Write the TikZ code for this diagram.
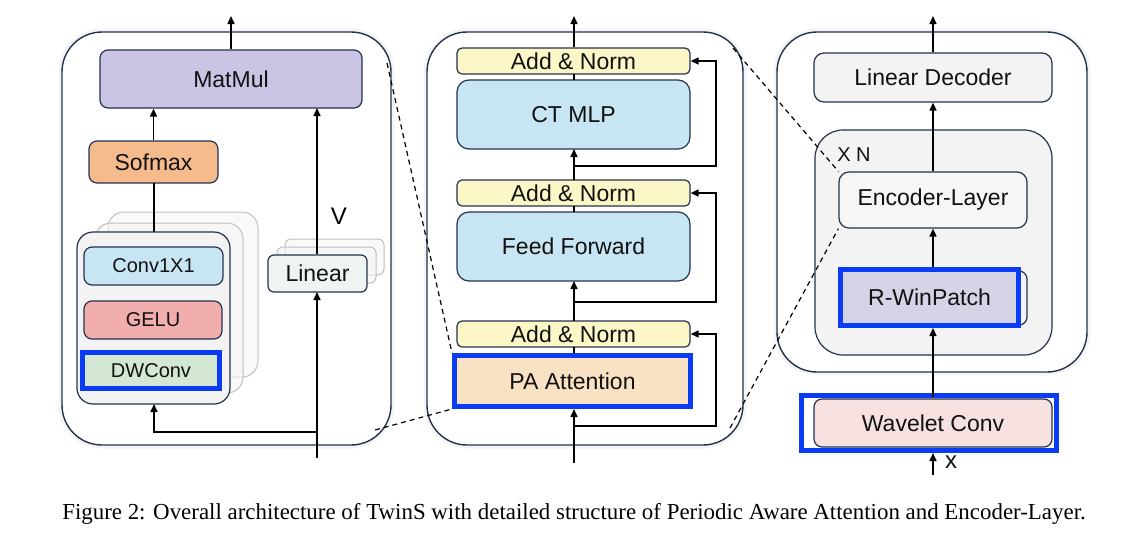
\documentclass[tikz,border=0pt]{standalone}
\usepackage{fontspec}
\setmainfont{Liberation Sans}
\newfontfamily\capfont{Liberation Serif}
\usetikzlibrary{arrows.meta}
\definecolor{navy}{HTML}{24324F}
\definecolor{hblue}{HTML}{0A3CF5}
\definecolor{cMat}{HTML}{CBC4E4}
\definecolor{cSof}{HTML}{F5BB8D}
\definecolor{cBlue}{HTML}{C8E5F3}
\definecolor{cGelu}{HTML}{F2AEAD}
\definecolor{cDW}{HTML}{D3E7D3}
\definecolor{cLin}{HTML}{EFF3F1}
\definecolor{cAdd}{HTML}{FBF7C7}
\definecolor{cPA}{HTML}{F9E2C3}
\definecolor{cGray}{HTML}{F3F3F3}
\definecolor{cEnc}{HTML}{F6F6F6}
\definecolor{cRW}{HTML}{D4D4E6}
\definecolor{cWav}{HTML}{F6E0E0}
\definecolor{txt}{HTML}{111111}
\tikzset{
  panel/.style={draw=navy, line width=1.4pt, rounded corners=40pt, fill=white},
  halo/.style={draw=black!60, line width=7pt, opacity=0.07, rounded corners=40pt},
  box/.style={draw=navy, line width=1.2pt, rounded corners=8pt, text=txt, font=\fontsize{23}{25}\selectfont, inner sep=0pt},
  sbox/.style={box, font=\fontsize{20}{22}\selectfont},
  ghost/.style={draw=black!25, line width=1pt, fill=black!4, fill opacity=0.6, rounded corners=16pt},
  hl/.style={draw=hblue, line width=5pt, sharp corners},
  arr/.style={-{Triangle[length=8pt,width=7pt]}, line width=1.5pt, black},
  ln/.style={line width=1.5pt, black},
  dsh/.style={dashed, dash pattern=on 5pt off 4pt, line width=1.2pt, black},
}
\begin{document}
\begin{tikzpicture}[x=1pt,y=-1pt]
\useasboundingbox (0,0) rectangle (1128,550);
\fill[white] (0,0) rectangle (1128,550);

% ---------- panels ----------
\draw[halo] (62,32) rectangle (391,445);
\draw[halo] (427,32) rectangle (743,445);
\draw[halo] (777,32) rectangle (1087,372);
\node[panel, minimum width=329pt, minimum height=413pt] (P1) at (226.5,238.5) {};
\node[panel, minimum width=316pt, minimum height=413pt] (P2) at (585,238.5) {};
\node[panel, minimum width=310pt, minimum height=340pt] (P3) at (932,202) {};

% ---------- left panel ----------
\node[box, fill=cMat, minimum width=262pt, minimum height=58pt] (mat) at (231,79) {MatMul};
\node[box, fill=cSof, minimum width=129pt, minimum height=42pt] (sof) at (153.5,162) {Sofmax};
\coordinate (matout) at (231,16);
\draw[arr] (mat.north) -- (matout);
\draw[arr] (sof.north) -- (sof.north |- mat.south);

\node[ghost, minimum width=150pt, minimum height=165pt] (g3) at (183,294.5) {};
\node[ghost, minimum width=148pt, minimum height=170pt] (g2) at (169,308) {};
\draw[ln] (154,183) -- (154,232);
\node[box, fill=cGray, rounded corners=16pt, minimum width=153pt, minimum height=172pt] (stk) at (153.5,318) {};
\node[sbox, fill=cBlue, minimum width=139pt, minimum height=38pt] (c11) at (153.5,266) {Conv1X1};
\node[sbox, fill=cGelu, minimum width=138pt, minimum height=38pt] (gelu) at (153,320) {GELU};
\node[sbox, fill=cDW, hl, minimum width=137pt, minimum height=36pt] (dw) at (151,370.5) {DWConv};

\node[ghost, rounded corners=6pt, minimum width=99pt, minimum height=36pt] (l3) at (334.5,257) {};
\node[ghost, rounded corners=6pt, minimum width=99pt, minimum height=36pt] (l2) at (326.5,265) {};
\node[box, fill=cLin, rounded corners=6pt, minimum width=99pt, minimum height=37pt] (lin) at (317.5,273.5) {Linear};
\node[font=\fontsize{24}{26}\selectfont] (V) at (339,216) {V};

\coordinate (in1) at (317,458);
\coordinate (br1) at (317,432);
\draw[arr] (lin.north -| 317,0) -- (317,108);
\draw[arr] (in1) -- (317,292);
\draw[arr] (br1) -- (154,432) -- (154,404);

% ---------- middle panel ----------
\node[box, fill=cAdd, rounded corners=5pt, minimum width=233pt, minimum height=26pt] (an1) at (573.5,61) {Add \& Norm};
\node[box, fill=cBlue, rounded corners=12pt, minimum width=233pt, minimum height=69pt] (ct) at (573.5,114.5) {CT MLP};
\node[box, fill=cAdd, rounded corners=5pt, minimum width=233pt, minimum height=26pt] (an2) at (573.5,193) {Add \& Norm};
\node[box, fill=cBlue, rounded corners=12pt, minimum width=233pt, minimum height=69pt] (ff) at (573.5,246.5) {Feed Forward};
\node[box, fill=cAdd, rounded corners=5pt, minimum width=233pt, minimum height=26pt] (an3) at (573.5,334) {Add \& Norm};
\node[box, fill=cPA, hl, minimum width=236pt, minimum height=51pt] (pa) at (572.5,381) {PA Attention};

\coordinate (out2) at (574,16);
\coordinate (in2) at (574,463);
\draw[arr] (an1.north -| 574,0) -- (out2);
\draw[ln] (574,80) -- (574,74);
\draw[arr] (574,180) -- (574,149);
\draw[ln] (574,212) -- (574,206);
\draw[arr] (574,321) -- (574,281);
\draw[ln] (574,353) -- (574,347);
\draw[arr] (in2) -- (574,409);
\draw[arr] (574,426) -- (716,426) -- (716,334) -- (an3.east);
\draw[arr] (574,302) -- (716,302) -- (716,193) -- (an2.east);
\draw[arr] (574,166) -- (716,166) -- (716,61) -- (an1.east);

% ---------- right panel ----------
\node[box, fill=cGray, rounded corners=10pt, minimum width=238pt, minimum height=49pt] (dec) at (933,77.5) {Linear Decoder};
\node[box, fill=cGray, rounded corners=28pt, minimum width=237pt, minimum height=225pt] (xn) at (933.5,242.5) {};
\node[font=\fontsize{20}{22}\selectfont, text=txt] (xnl) at (854,155) {X N};
\node[box, fill=cEnc, rounded corners=10pt, minimum width=188pt, minimum height=56pt] (enc) at (933,200) {Encoder-Layer};
\node[box, fill=cGray, rounded corners=8pt, minimum width=182pt, minimum height=54pt] (rws) at (936,298) {};
\node[box, fill=cRW, hl, minimum width=178pt, minimum height=56pt] (rw) at (929.5,297.5) {R-WinPatch};
\node[draw=hblue, line width=5pt, fill=white, minimum width=255pt, minimum height=55pt] (wavb) at (929,423) {};
\node[box, fill=cWav, rounded corners=8pt, minimum width=238pt, minimum height=48pt] (wav) at (933,423) {Wavelet Conv};

\coordinate (out3) at (933,16);
\coordinate (in3) at (933,475);
\draw[arr] (dec.north) -- (out3);
\draw[arr] (enc.north) -- (dec.south);
\draw[arr] (933,267) -- (enc.south);
\draw[arr] (933,397) -- (933,328);
\draw[arr] (in3) -- (933,453);
\node[font=\fontsize{24}{26}\selectfont, text=txt] (xl) at (951,462) {x};

% ---------- dashed zoom lines ----------
\draw[dsh] (387,63) -- (pa.north west);
\draw[dsh] (375,430) -- (pa.south west);
\draw[dsh] (733,48) -- (enc.north west);
\draw[dsh] (730,428) -- (enc.south west);

% ---------- caption ----------
\node[font=\capfont\fontsize{22.9}{26}\selectfont, text=black] (cap) at (574,514) {Figure 2: Overall architecture of TwinS with detailed structure of Periodic Aware Attention and Encoder-Layer.};
\end{tikzpicture}
\end{document}
